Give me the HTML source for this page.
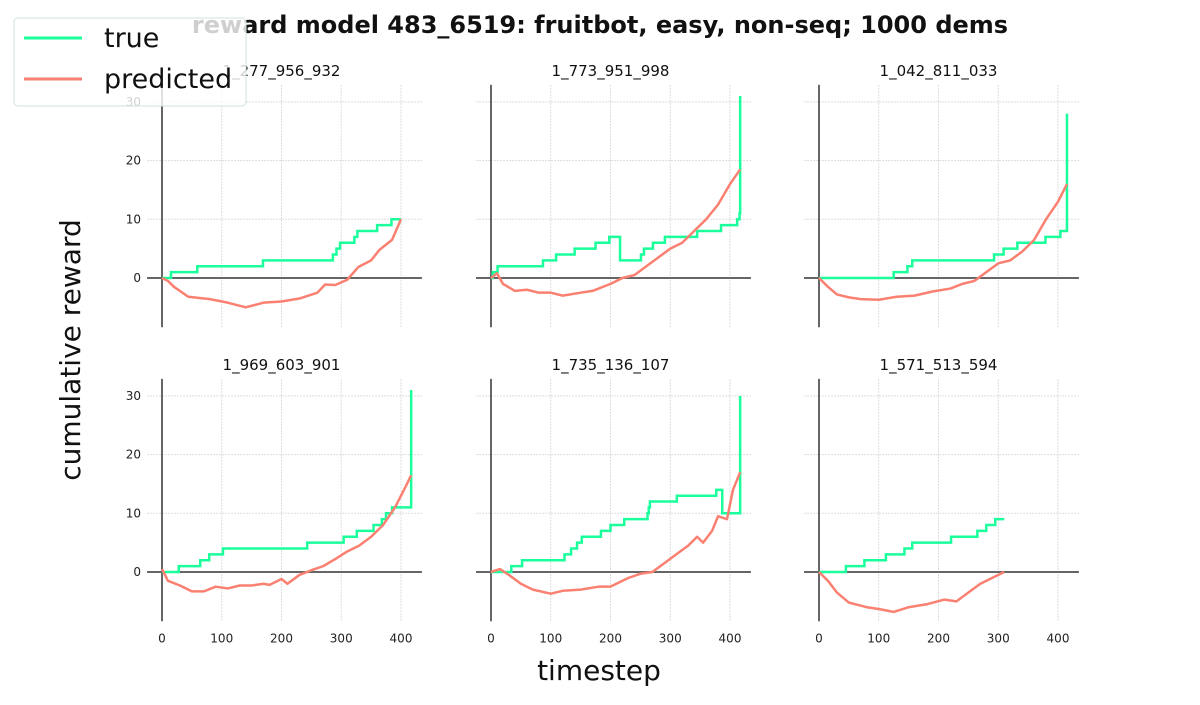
<!DOCTYPE html>
<html><head><meta charset="utf-8"><style>
body{margin:0;background:#fff;width:1200px;height:700px;overflow:hidden}
svg{font-family:"DejaVu Sans","Liberation Sans",sans-serif}
</style></head><body>
<svg id="c" width="1200" height="700">
<text x="600" y="33" text-anchor="middle" font-size="24" font-weight="bold" fill="#111">reward model 483_6519: fruitbot, easy, non-seq; 1000 dems</text>
<text x="599" y="680" text-anchor="middle" font-size="28" fill="#111">timestep</text>
<text transform="translate(80,350) rotate(-90)" text-anchor="middle" font-size="28" fill="#111">cumulative reward</text>
</svg>
<script>
const titles=["1_277_956_932","1_773_951_998","1_042_811_033","1_969_603_901","1_735_136_107","1_571_513_594"];
const xTicks=[0,100,200,300,400];
const yTicks=[0,10,20,30];
const trueSteps=[
[[0,0],[15,1],[59,2],[169,3],[286,4],[292,5],[298,6],[322,7],[327,8],[360,9],[384,10],[400,10]],
[[0,0],[3,1],[11,2],[87,3],[109,4],[140,5],[175,6],[198,7],[216,3],[251,4],[256,5],[271,6],[291,7],[345,8],[385,9],[412,10],[416,11],[417,31]],
[[0,0],[125,1],[148,2],[156,3],[293,4],[309,5],[332,6],[379,7],[404,8],[415,28]],
[[0,0],[28,1],[64,2],[79,3],[102,4],[243,5],[304,6],[326,7],[354,8],[368,9],[375,10],[385,11],[417,31]],
[[0,0],[34,1],[52,2],[123,3],[134,4],[144,5],[152,6],[184,7],[200,8],[223,9],[262,10],[264,11],[266,12],[311,13],[377,14],[387,10],[416,10],[417,30]],
[[0,0],[45,1],[76,2],[112,3],[143,4],[156,5],[221,6],[265,7],[280,8],[295,9],[310,9]]
];
const predicted=[
[[0,0],[10,-0.5],[20,-1.5],[44,-3.2],[80,-3.6],[110,-4.2],[140,-5],[170,-4.2],[200,-4],[230,-3.5],[260,-2.5],[273,-1.1],[290,-1.2],[310,-0.3],[329,1.9],[350,3],[364,4.8],[385,6.5],[400,10]],
[[0,0],[10,0.8],[20,-1],[40,-2.2],[60,-2],[80,-2.5],[100,-2.5],[120,-3],[150,-2.5],[170,-2.2],[200,-1],[220,0],[240,0.5],[260,2],[280,3.5],[300,5],[320,6],[340,8],[360,10],[380,12.5],[400,16],[417,18.5]],
[[0,0],[15,-1.5],[30,-2.8],[50,-3.3],[70,-3.6],[100,-3.7],[130,-3.2],[160,-3],[190,-2.3],[220,-1.8],[240,-1],[260,-0.5],[280,1],[300,2.5],[320,3],[340,4.5],[360,6.5],[380,10],[400,13],[415,16]],
[[0,0.5],[10,-1.5],[30,-2.3],[50,-3.3],[70,-3.3],[90,-2.5],[110,-2.8],[130,-2.3],[150,-2.3],[170,-2],[180,-2.2],[200,-1.2],[210,-2],[230,-0.5],[250,0.3],[270,1],[290,2.2],[310,3.5],[330,4.5],[350,6],[370,8],[390,11],[410,15],[417,16.5]],
[[0,0],[15,0.5],[30,-0.5],[50,-2],[70,-3],[100,-3.7],[120,-3.2],[150,-3],[180,-2.5],[200,-2.5],[230,-1],[250,-0.3],[270,0],[290,1.5],[310,3],[330,4.5],[345,6],[355,5],[370,7],[380,9.5],[395,9],[405,14],[417,17]],
[[0,0],[15,-1.5],[30,-3.5],[50,-5.2],[80,-6],[100,-6.3],[125,-6.8],[150,-6],[180,-5.5],[210,-4.7],[230,-5],[250,-3.5],[270,-2],[290,-1],[310,0]]
];
const NS="http://www.w3.org/2000/svg",svg=document.getElementById('c');
function mk(t,a,p){const e=document.createElementNS(NS,t);for(const k in a)e.setAttribute(k,a[k]);(p||svg).appendChild(e);return e;}
const colX0=[162,491,819],rowY0=[278,572],sx=239/400,sy=5.87;
for(let i=0;i<6;i++){
  const c=i%3,r=Math.floor(i/3);
  const X=t=>colX0[c]+t*sx, Y=v=>rowY0[r]-v*sy;
  const g=mk('g',{});
  
  
  const top=Y(32.9),bot=Y(-8.4);
  xTicks.forEach(t=>{const l=mk('line',{x1:X(t),x2:X(t),y1:top,y2:bot,stroke:'#ddd','stroke-width':1,'stroke-dasharray':'2,1'},g);
    if(r==1){const tx=mk('text',{x:X(t),y:bot+21,'text-anchor':'middle','font-size':12,fill:'#222'},g);tx.textContent=t;}});
  yTicks.forEach(v=>{const l=mk('line',{x1:X(-25),x2:X(435),y1:Y(v),y2:Y(v),stroke:'#ddd','stroke-width':1,'stroke-dasharray':'2,1'},g);
    if(c==0){const tx=mk('text',{x:X(-25)-6,y:Y(v)+4,'text-anchor':'end','font-size':12,fill:'#222'},g);tx.textContent=v;}});
  let a=mk('line',{x1:X(-25),x2:X(435),y1:Y(0),y2:Y(0),stroke:'#666','stroke-width':2},g);
  
  a=mk('line',{x1:X(0),x2:X(0),y1:top,y2:bot,stroke:'#666','stroke-width':2},g);
  
  const tt=mk('text',{x:X(200),y:r==0?76:370,'text-anchor':'middle','font-size':15,fill:'#111'},g);tt.textContent=titles[i];
  
  let d='';trueSteps[i].forEach((p,j)=>{if(j==0)d+='M'+X(p[0])+','+Y(p[1]);else d+='H'+X(p[0])+'V'+Y(p[1]);});
  const lastT=trueSteps[i][trueSteps[i].length-1][0];d+='H'+X(lastT);
  let pth=mk('path',{d:d,fill:'none',stroke:'#1aff9c','stroke-width':2.5},g);
  
  d='';predicted[i].forEach((p,j)=>{d+=(j?'L':'M')+X(p[0])+','+Y(p[1]);});
  pth=mk('path',{d:d,fill:'none',stroke:'#fa8072','stroke-width':2.5,'stroke-linejoin':'round'},g);
  
}
const lg=mk('g',{});


mk('rect',{x:14,y:18,width:232,height:88,rx:4,fill:'rgba(255,255,255,0.8)',stroke:'#cfe3dc'},lg);
mk('line',{x1:24,x2:82,y1:38,y2:38,stroke:'#1aff9c','stroke-width':3},lg);
mk('line',{x1:24,x2:82,y1:79,y2:79,stroke:'#fa8072','stroke-width':3},lg);
let t1=mk('text',{x:104,y:47,'font-size':27,fill:'#111'},lg);t1.textContent='true';

let t2=mk('text',{x:104,y:88,'font-size':27,fill:'#111'},lg);t2.textContent='predicted';

</script>
</body></html>
